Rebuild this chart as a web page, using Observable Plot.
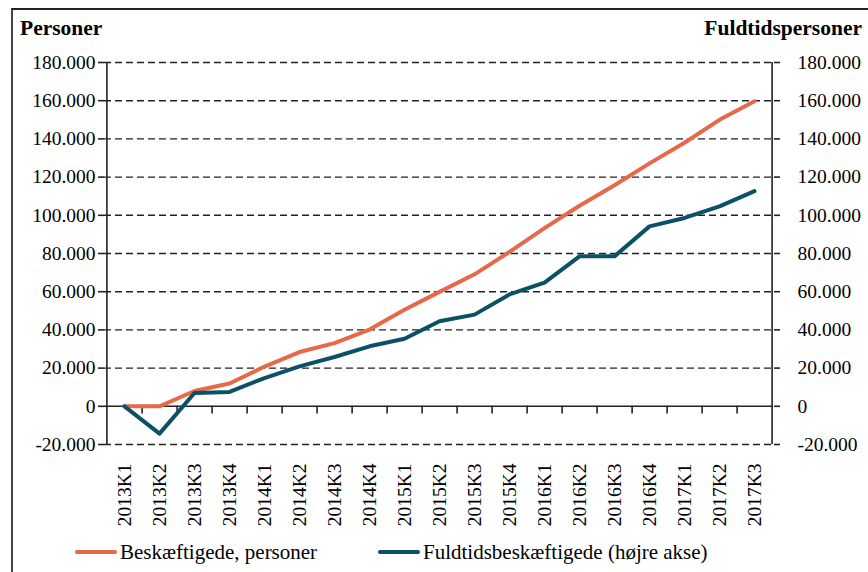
<!DOCTYPE html>
<html>
<head>
<meta charset="utf-8">
<script src="https://cdn.jsdelivr.net/npm/d3@7"></script>
<script src="https://cdn.jsdelivr.net/npm/@observablehq/plot@0.6"></script>
<style>
  html, body { margin: 0; padding: 0; background: #fff; }
  #wrap { position: relative; width: 868px; height: 572px; overflow: hidden; font-family: "Liberation Serif", serif; color: #000; }
  #frame { position: absolute; left: 11px; top: 8px; right: -2px; bottom: -2px; border-top: 2px solid #222; border-left: 2px solid #444; }
  .hdr { position: absolute; top: 15px; font-weight: bold; font-size: 21.5px; line-height: 26px; }
  #chart { position: absolute; left: 0; top: 0; }
  #legend { position: absolute; top: 539px; left: 0; width: 868px; font-size: 21px; line-height: 26px; }
  .item { position: absolute; display: flex; align-items: center; white-space: nowrap; }
  .sw { display: inline-block; width: 42px; height: 4px; border-radius: 2px; margin-right: 3px; }
</style>
</head>
<body>
<div id="wrap">
  <div id="frame"></div>
  <div class="hdr" style="left:20px">Personer</div>
  <div class="hdr" style="right:6px">Fuldtidspersoner</div>
  <div id="chart"></div>
  <div id="legend"></div>
</div>
<script>
const categories = ["2013K1","2013K2","2013K3","2013K4","2014K1","2014K2","2014K3","2014K4","2015K1","2015K2","2015K3","2015K4","2016K1","2016K2","2016K3","2016K4","2017K1","2017K2","2017K3"];
const personer = [0, 0, 8000, 11900, 20800, 28400, 33100, 40200, 50500, 59900, 69100, 80800, 93300, 105000, 115700, 127200, 138000, 150000, 159700];
const fuldtid = [0, -14300, 7000, 7500, 14800, 20900, 25800, 31400, 35400, 44500, 48000, 58600, 64800, 78500, 78500, 94200, 98600, 104700, 112700];
const yTicks = [-20000, 0, 20000, 40000, 60000, 80000, 100000, 120000, 140000, 160000, 180000];
const seriesNames = ["Beskæftigede, personer", "Fuldtidsbeskæftigede (højre akse)"];
const colors = ["#E6694A", "#0B5166"];

const rows = [];
categories.forEach((c, i) => {
  rows.push({q: c, v: personer[i], s: seriesNames[0]});
  rows.push({q: c, v: fuldtid[i], s: seriesNames[1]});
});

const W = 868, H = 540;
const mL = 104, mR = 95, mT = 62, mB = 96;
const step = (W - mL - mR) / categories.length;
const fmt = d => d === 0 ? "0" : d3.format(",")(d).replace(/,/g, ".").replace("\u2212", "-");

const chart = Plot.plot({
  width: W, height: H,
  marginLeft: mL, marginRight: mR, marginTop: mT, marginBottom: mB,
  style: {fontFamily: "Liberation Serif, serif", fontSize: "19.5px", color: "#000", background: "transparent"},
  x: {type: "point", domain: categories, padding: 0.5},
  y: {domain: [-20000, 180000]},
  color: {domain: seriesNames, range: colors},
  marks: [
    Plot.ruleY(yTicks.filter(d => d !== 0), {stroke: "#222", strokeWidth: 1.4, strokeDasharray: "7,4"}),
    Plot.ruleY([0], {stroke: "#222", strokeWidth: 1.6}),
    Plot.ruleX(categories.slice(0, -1), {x: d => d, y1: 0, y2: -4000, dx: step / 2, stroke: "#222", strokeWidth: 1.6}),
    Plot.ruleX([categories[0]], {x: d => d, y1: -20000, y2: 180000, dx: -step / 2, stroke: "#222", strokeWidth: 1.6}),
    Plot.ruleX([categories[categories.length - 1]], {x: d => d, y1: -20000, y2: 180000, dx: step / 2, stroke: "#222", strokeWidth: 1.6}),
    Plot.axisY({anchor: "left", ticks: yTicks, tickFormat: fmt, tickSize: 6, tickPadding: 3, label: null, stroke: "#222", strokeWidth: 1.6, fill: "#000"}),
    Plot.axisY({anchor: "right", ticks: yTicks, tickFormat: fmt, tickSize: 6, tickPadding: 18, label: null, stroke: "#222", strokeWidth: 1.6, fill: "#000", textAnchor: "start"}),
    Plot.axisX({anchor: "bottom", tickRotate: -90, tickSize: 0, tickPadding: 19, label: null, fill: "#000", fontSize: "19.5px"}),
    Plot.line(rows, {x: "q", y: "v", z: "s", stroke: "s", strokeWidth: 4, strokeLinejoin: "round", strokeLinecap: "round"})
  ]
});
document.getElementById("chart").appendChild(chart);

const legend = document.getElementById("legend");
const lx = [75, 378];
seriesNames.forEach((n, i) => {
  const it = document.createElement("div");
  it.className = "item";
  it.style.left = lx[i] + "px";
  const sw = document.createElement("span");
  sw.className = "sw";
  sw.style.background = colors[i];
  const t = document.createElement("span");
  t.textContent = n;
  it.appendChild(sw); it.appendChild(t);
  legend.appendChild(it);
});
</script>
</body>
</html>
